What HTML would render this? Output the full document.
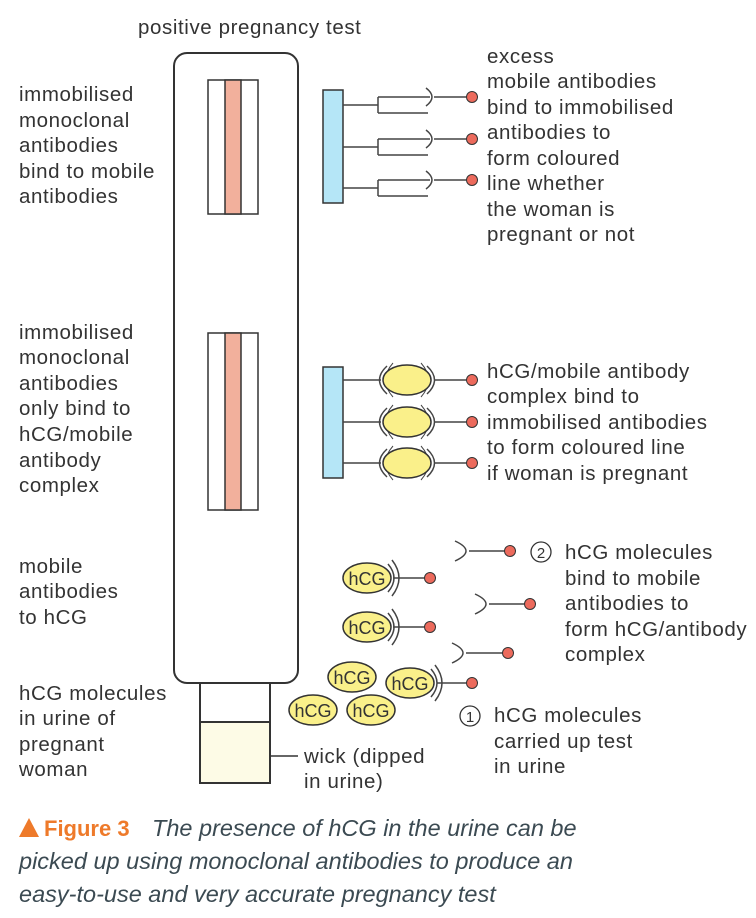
<!DOCTYPE html>
<html><head><meta charset="utf-8"><style>
body{margin:0;width:756px;height:918px;background:#fff;overflow:hidden;font-family:"Liberation Sans",sans-serif}
svg{position:absolute;left:0;top:0}
text{font-family:"Liberation Sans",sans-serif;font-size:20.5px;letter-spacing:0.6px;fill:#333}
.c{font-size:23.5px;font-style:italic;fill:#3b4a52;letter-spacing:0}
.h{font-size:18px;letter-spacing:0}
</style></head><body>
<svg width="756" height="918" viewBox="0 0 756 918">
<defs>
<g id="dot"><circle r="5.5" fill="#ec6a5c" stroke="#333" stroke-width="1"/></g>
</defs>
<g stroke="#333" stroke-width="2" fill="none">
<rect x="174" y="53" width="124" height="630" rx="13" fill="#fff"/>
<rect x="200" y="683" width="70" height="100" fill="#fff"/>
<rect x="200" y="722" width="70" height="61" fill="#fdfbe6"/>
<line x1="270" y1="756" x2="298" y2="756" stroke-width="1.5"/>
<rect x="208" y="80" width="50" height="134" fill="#fff" stroke-width="1.5"/>
<rect x="225" y="80" width="16" height="134" fill="#f2b09c" stroke-width="1.5"/>
<rect x="208" y="333" width="50" height="177" fill="#fff" stroke-width="1.5"/>
<rect x="225" y="333" width="16" height="177" fill="#f2b09c" stroke-width="1.5"/>
<rect x="323" y="90" width="20" height="113" fill="#b5e6f7" stroke-width="1.5"/>
<rect x="323" y="367" width="20" height="111" fill="#b5e6f7" stroke-width="1.5"/>
</g>
<g stroke="#444" stroke-width="1.5" fill="none">
<path d="M343 105H378M378 97V113M378 97H430M378 113H428M426 88Q438 97 426 106M434 97H466"/>
<path d="M343 147H378M378 139V155M378 139H430M378 155H428M426 130Q438 139 426 148M434 139H466"/>
<path d="M343 188H378M378 180V196M378 180H430M378 196H428M426 171Q438 180 426 189M434 180H466"/>
<path d="M343 380H381M434 380H466M343 422H381M434 422H466M343 463H381M434 463H466"/>
<path d="M387 366Q372 380 387 394M427 366Q442 380 427 394M387 408Q372 422 387 436M427 408Q442 422 427 436M387 449Q372 463 387 477M427 449Q442 463 427 477"/>
<path d="M393 363Q378 380 393 397M421 363Q436 380 421 397M393 405Q378 422 393 439M421 405Q436 422 421 439M393 446Q378 463 393 480M421 446Q436 463 421 480" stroke-width="1"/>
<path d="M393 578H424M393 627H424M437 683H466"/>
<path d="M388 564Q400 578 388 592M392 560Q406 578 392 596M388 613Q400 627 388 641M392 609Q406 627 392 645M431 669Q443 683 431 697M435 665Q449 683 435 701"/>
<path d="M455 541Q477 551 455 561M469 551H505"/>
<path d="M475 594Q497 604 475 614M489 604H524"/>
<path d="M452 643Q474 653 452 663M466 653H503"/>
</g>
<g fill="#faf08a" stroke="#333" stroke-width="1.5">
<ellipse cx="407" cy="380" rx="24" ry="15"/>
<ellipse cx="407" cy="422" rx="24" ry="15"/>
<ellipse cx="407" cy="463" rx="24" ry="15"/>
<ellipse cx="367" cy="578" rx="24" ry="15"/>
<ellipse cx="367" cy="627" rx="24" ry="15"/>
<ellipse cx="352" cy="677" rx="24" ry="15"/>
<ellipse cx="410" cy="683" rx="24" ry="15"/>
<ellipse cx="313" cy="710" rx="24" ry="15"/>
<ellipse cx="371" cy="710" rx="24" ry="15"/>
</g>
<g>
<use href="#dot" x="472" y="97"/><use href="#dot" x="472" y="139"/><use href="#dot" x="472" y="180"/>
<use href="#dot" x="472" y="380"/><use href="#dot" x="472" y="422"/><use href="#dot" x="472" y="463"/>
<use href="#dot" x="430" y="578"/><use href="#dot" x="430" y="627"/><use href="#dot" x="472" y="683"/>
<use href="#dot" x="510" y="551"/><use href="#dot" x="530" y="604"/><use href="#dot" x="508" y="653"/>
</g>
<g text-anchor="middle">
<text class="h" x="367" y="585">hCG</text><text class="h" x="367" y="634">hCG</text>
<text class="h" x="352" y="684">hCG</text><text class="h" x="410" y="690">hCG</text>
<text class="h" x="313" y="717">hCG</text><text class="h" x="371" y="717">hCG</text>
</g>
<circle cx="470" cy="716" r="10" fill="none" stroke="#333" stroke-width="1.3"/>
<text x="470" y="722" text-anchor="middle" style="font-size:15px;letter-spacing:0">1</text>
<circle cx="541" cy="552" r="10" fill="none" stroke="#333" stroke-width="1.3"/>
<text x="541" y="558" text-anchor="middle" style="font-size:15px;letter-spacing:0">2</text>
<text x="138" y="34">positive pregnancy test</text>
<text x="19" y="101">immobilised</text><text x="19" y="127">monoclonal</text><text x="19" y="152">antibodies</text><text x="19" y="178">bind to mobile</text><text x="19" y="203">antibodies</text>
<text x="19" y="339">immobilised</text><text x="19" y="364">monoclonal</text><text x="19" y="390">antibodies</text><text x="19" y="415">only bind to</text><text x="19" y="441">hCG/mobile</text><text x="19" y="467">antibody</text><text x="19" y="492">complex</text>
<text x="19" y="573">mobile</text><text x="19" y="598">antibodies</text><text x="19" y="624">to hCG</text>
<text x="19" y="700">hCG molecules</text><text x="19" y="725">in urine of</text><text x="19" y="751">pregnant</text><text x="19" y="776">woman</text>
<text x="487" y="63">excess</text><text x="487" y="88">mobile antibodies</text><text x="487" y="114">bind to immobilised</text><text x="487" y="139">antibodies to</text><text x="487" y="165">form coloured</text><text x="487" y="190">line whether</text><text x="487" y="216">the woman is</text><text x="487" y="241">pregnant or not</text>
<text x="487" y="378">hCG/mobile antibody</text><text x="487" y="403">complex bind to</text><text x="487" y="429">immobilised antibodies</text><text x="487" y="454">to form coloured line</text><text x="487" y="480">if woman is pregnant</text>
<text x="565" y="559">hCG molecules</text><text x="565" y="585">bind to mobile</text><text x="565" y="610">antibodies to</text><text x="565" y="636">form hCG/antibody</text><text x="565" y="661">complex</text>
<text x="494" y="722">hCG molecules</text><text x="494" y="748">carried up test</text><text x="494" y="773">in urine</text>
<text x="304" y="763">wick (dipped</text><text x="304" y="788">in urine)</text>
<path d="M19 837L29 818L39 837Z" fill="#ee7a2a"/>
<text x="44" y="836" style="font-size:22px;font-weight:bold;fill:#ee7a2a;letter-spacing:0">Figure 3</text>
<text class="c" x="152" y="836">The presence of hCG in the urine can be</text>
<text class="c" x="19" y="869">picked up using monoclonal antibodies to produce an</text>
<text class="c" x="19" y="902">easy-to-use and very accurate pregnancy test</text>
</svg>
</body></html>
